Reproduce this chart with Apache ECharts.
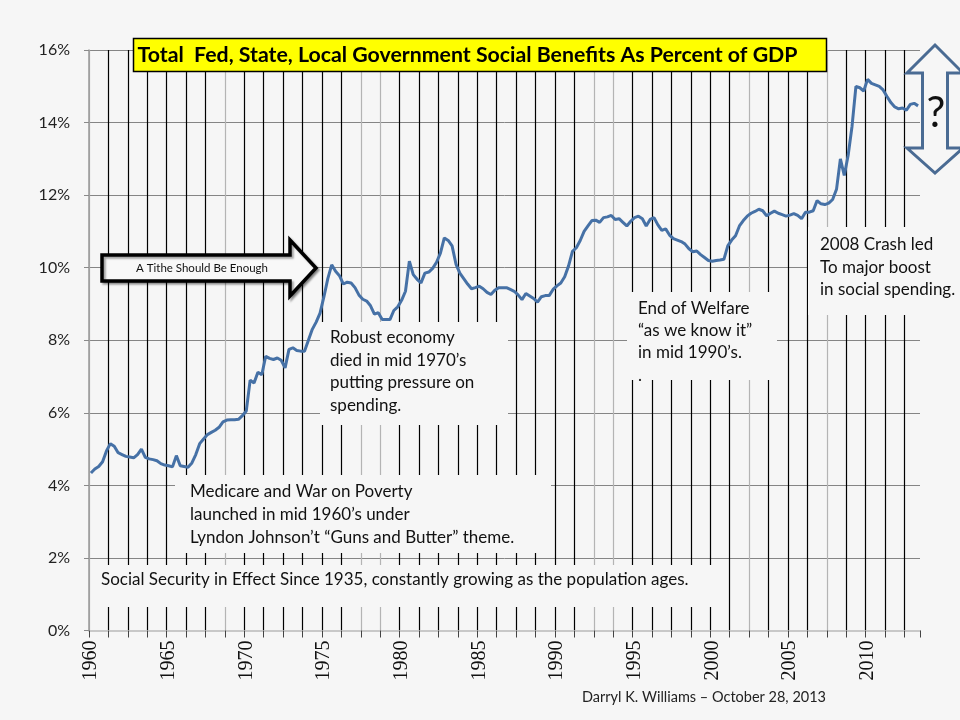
<!DOCTYPE html>
<html>
<head>
<meta charset="utf-8">
<script src="https://cdn.jsdelivr.net/npm/echarts@6/dist/echarts.min.js"></script>
<style>
html,body{margin:0;padding:0;background:#f6f6f6;}
#chart{width:960px;height:720px;}
</style>
</head>
<body>
<div id="chart"></div>
<script>
// ---- Data (quarterly, 1960Q1 - 2013Q2), percent of GDP ----
const firstYear = 1960;
const lastYear = 2013;
const quarterNames = ['Q1', 'Q2', 'Q3', 'Q4'];
const quarterCount = 214;

const benefitsPct = [
  4.34, 4.45, 4.52, 4.65,     // 1960
  4.95, 5.15, 5.08, 4.90,     // 1961
  4.85, 4.80, 4.78, 4.76,     // 1962
  4.85, 5.00, 4.77, 4.73,     // 1963
  4.71, 4.68, 4.60, 4.56,     // 1964
  4.54, 4.51, 4.82, 4.54,     // 1965
  4.52, 4.50, 4.62, 4.85,     // 1966
  5.15, 5.28, 5.40, 5.46,     // 1967
  5.52, 5.60, 5.75, 5.80,     // 1968
  5.81, 5.81, 5.82, 5.92,     // 1969
  6.05, 6.90, 6.82, 7.12,     // 1970
  7.05, 7.56, 7.50, 7.47,     // 1971
  7.51, 7.45, 7.24, 7.75,     // 1972
  7.79, 7.72, 7.70, 7.70,     // 1973
  8.00, 8.30, 8.50, 8.75,     // 1974
  9.20, 9.70, 10.08, 9.90,    // 1975
  9.78, 9.55, 9.60, 9.58,     // 1976
  9.45, 9.25, 9.13, 9.08,     // 1977
  8.95, 8.72, 8.76, 8.57,     // 1978
  8.57, 8.57, 8.82, 8.92,     // 1979
  9.10, 9.35, 10.18, 9.81,    // 1980
  9.68, 9.58, 9.85, 9.88,     // 1981
  9.98, 10.15, 10.40, 10.82,  // 1982
  10.75, 10.60, 10.10, 9.85,  // 1983
  9.70, 9.55, 9.42, 9.45,     // 1984
  9.49, 9.42, 9.32, 9.26,     // 1985
  9.38, 9.45, 9.45, 9.45,     // 1986
  9.40, 9.35, 9.25, 9.12,     // 1987
  9.29, 9.22, 9.15, 9.05,     // 1988
  9.20, 9.23, 9.23, 9.40,     // 1989
  9.50, 9.58, 9.75, 10.05,    // 1990
  10.45, 10.55, 10.75, 11.00, // 1991
  11.15, 11.30, 11.31, 11.25, // 1992
  11.38, 11.40, 11.44, 11.33, // 1993
  11.35, 11.25, 11.15, 11.28, // 1994
  11.38, 11.42, 11.35, 11.15, // 1995
  11.33, 11.38, 11.18, 11.03, // 1996
  11.07, 10.90, 10.80, 10.76, // 1997
  10.72, 10.65, 10.52, 10.44, // 1998
  10.46, 10.36, 10.28, 10.20, // 1999
  10.18, 10.20, 10.21, 10.23, // 2000
  10.60, 10.76, 10.88, 11.15, // 2001
  11.30, 11.42, 11.50, 11.55, // 2002
  11.61, 11.57, 11.43, 11.50, // 2003
  11.56, 11.50, 11.46, 11.42, // 2004
  11.45, 11.49, 11.44, 11.35, // 2005
  11.53, 11.53, 11.57, 11.85, // 2006
  11.76, 11.74, 11.78, 11.88, // 2007
  12.16, 13.00, 12.54, 13.10, // 2008
  13.90, 15.00, 14.96, 14.87, // 2009
  15.19, 15.08, 15.04, 15.00, // 2010
  14.90, 14.72, 14.55, 14.43, // 2011
  14.38, 14.40, 14.34, 14.50, // 2012
  14.53, 14.46                // 2013
];

const yTicks = [0, 2, 4, 6, 8, 10, 12, 14, 16];

const titleText = 'Total  Fed, State, Local Government Social Benefits As Percent of GDP';
const tithe = 'A Tithe Should Be Enough';
const noteRobust = ['Robust economy', 'died in mid 1970\u2019s', 'putting pressure on', 'spending.'];
const noteWelfare = ['End of Welfare', '\u201cas we know it\u201d', 'in mid 1990\u2019s.', '.'];
const noteCrash = ['2008 Crash led', 'To major boost', 'in social spending.'];
const noteMedicare = ['Medicare and War on Poverty', 'launched in mid 1960\u2019s under', 'Lyndon Johnson\u2019t \u201cGuns and Butter\u201d theme.'];
const noteSocial = 'Social Security in Effect Since 1935, constantly growing as the population ages.';
const credit = 'Darryl K. Williams \u2013 October 28, 2013';

// ---- build categories ----
const categories = [];
for (let y = firstYear; y <= lastYear; y++) {
  for (let q = 0; q < 4; q++) {
    if (categories.length < quarterCount) categories.push(y + quarterNames[q]);
  }
}

// vertical grid line colours (some render lighter in the original)
const lightLines = [0, 7, 14, 15, 26, 27, 34, 38];
const vColors = [];
for (let k = 0; k < 46; k++) vColors.push(lightLines.indexOf(k) >= 0 ? '#b4b4b4' : '#000000');

const BG = '#f6f6f6';
const SANS = 'Lato, "Open Sans", sans-serif';

function box(x, y, w, h) {
  return { type: 'rect', z: 1, shape: { x: x, y: y, width: w, height: h }, style: { fill: BG } };
}
function note(x, y, lines, size, lh) {
  return { type: 'text', z: 3, x: x, y: y,
    style: { text: Array.isArray(lines) ? lines.join('\n') : lines, font: size + 'px ' + SANS,
      fill: '#111', lineHeight: lh, align: 'left', verticalAlign: 'top' } };
}

const chart = echarts.init(document.getElementById('chart'), null, { renderer: 'canvas' });
chart.setOption({
  backgroundColor: BG,
  animation: false,
  grid: { left: 89, right: 40, top: 50, bottom: 89.5, containLabel: false },
  xAxis: {
    type: 'category',
    data: categories,
    boundaryGap: true,
    axisLine: { show: true, lineStyle: { color: '#c8c8c8', width: 2 } },
    axisTick: { show: true, interval: 4, length: 7, lineStyle: { color: '#444', width: 1 } },
    axisLabel: {
      interval: 19, rotate: 90, margin: 10,
      fontFamily: '"Liberation Serif", "DejaVu Serif", serif', fontSize: 20, color: '#111',
      formatter: v => v.slice(0, 4)
    },
    splitLine: { show: true, interval: 4, showMinLine: true, showMaxLine: false,
      lineStyle: { color: vColors, width: 1.2 } }
  },
  yAxis: {
    type: 'value', min: yTicks[0], max: yTicks[yTicks.length - 1], interval: 2,
    axisLine: { show: true, lineStyle: { color: '#9a9a9a', width: 1.5 } },
    axisTick: { show: true, length: 5, lineStyle: { color: '#8a8a8a' } },
    axisLabel: { margin: 19, fontFamily: SANS, fontSize: 16, color: '#222', formatter: '{value}%' },
    splitLine: { show: true, lineStyle: { color: '#858585', width: 1 } }
  },
  series: [{
    type: 'line', data: benefitsPct, z: 2,
    showSymbol: false, smooth: false,
    lineStyle: { color: '#4671a6', width: 3 }
  }],
  graphic: { elements: [
    // masks (text boxes with opaque background)
    box(320, 322, 188, 103),
    box(627, 292, 150, 88),
    box(808, 227, 152, 88),
    box(175, 475, 376, 78),
    box(93, 565, 633, 42),
    // title
    { type: 'rect', z: 4, shape: { x: 133.5, y: 38.5, width: 693, height: 33 },
      style: { fill: '#ffff00', stroke: '#000', lineWidth: 1.5 } },
    { type: 'text', z: 5, x: 137.5, y: 55.5,
      style: { text: titleText, font: 'bold 21.3px ' + SANS, fill: '#000', align: 'left', verticalAlign: 'middle' } },
    // tithe arrow
    { type: 'polygon', z: 4,
      shape: { points: [[102, 255], [290, 255], [290, 240], [316, 268], [290, 296], [290, 281], [102, 281]] },
      style: { fill: '#f8f8f8', stroke: '#000', lineWidth: 3.5, lineJoin: 'miter',
        shadowColor: 'rgba(0,0,0,0.35)', shadowOffsetX: 2, shadowOffsetY: 2, shadowBlur: 2 } },
    { type: 'text', z: 5, x: 202, y: 268,
      style: { text: tithe, font: '11.5px ' + SANS, fill: '#111', align: 'center', verticalAlign: 'middle' } },
    // double arrow with question mark
    { type: 'polygon', z: 4,
      shape: { points: [[935, 45], [963, 73], [947.5, 73], [947.5, 148], [963, 148], [935, 173],
                        [907, 148], [922.5, 148], [922.5, 73], [907, 73]] },
      style: { fill: BG, stroke: '#4a6b93', lineWidth: 3, lineJoin: 'miter' } },
    { type: 'text', z: 5, x: 936, y: 113,
      style: { text: '?', font: '42px ' + SANS, fill: '#111', align: 'center', verticalAlign: 'middle' } },
    // notes
    note(330, 326.7, noteRobust, 17, 22.5),
    note(638, 297, noteWelfare, 17, 22.3),
    note(820, 233.7, noteCrash, 17, 22.5),
    note(190, 480.5, noteMedicare, 17, 23),
    note(101, 569.5, noteSocial, 17, 21),
    { type: 'text', z: 5, x: 582, y: 697,
      style: { text: credit, font: '14.5px ' + SANS, fill: '#222', align: 'left', verticalAlign: 'middle' } }
  ] }
});
</script>
</body>
</html>
